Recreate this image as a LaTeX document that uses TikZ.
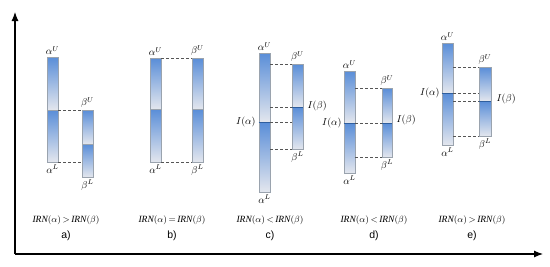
\documentclass[tikz,border=0pt]{standalone}
\usepackage{fontspec}
\setmainfont{Liberation Serif}
\newfontfamily\letterfont{Liberation Sans}
\usetikzlibrary{arrows.meta,positioning}
\definecolor{barblue}{HTML}{5A8ED8}
\definecolor{barwash}{HTML}{E4E7EE}
\definecolor{barline}{HTML}{9AA3AE}
\definecolor{midline}{HTML}{2F5E9E}
\definecolor{dashcol}{HTML}{555555}

\begin{document}
\begin{tikzpicture}[x=1pt,y=-1pt,node distance=1pt,
half/.style={draw=barline,line width=0.6pt,top color=barblue,bottom color=barwash,minimum width=11pt,inner sep=0pt,anchor=north},
tie/.style={dashcol,dash pattern=on 3pt off 2pt,line width=0.5pt},
midmark/.style={midline,line width=0.9pt},
lab/.style={font=\normalsize,inner sep=1pt},
captext/.style={font=\fontsize{9.5}{11}\selectfont,inner sep=1pt},
tag/.style={font=\letterfont\fontsize{10.5}{12}\selectfont,inner sep=1pt},
axis/.style={-{Latex[length=9pt,width=7pt]},line width=1.1pt}]
\useasboundingbox (0,0) rectangle (550,266);
% axes
\coordinate (origin) at (15,254);
\coordinate (ytip) at (15,12);
\coordinate (xtip) at (543,254);
\draw[axis] (origin)--(ytip);
\draw[axis] (origin)--(xtip);

% a)
\node[half,minimum height=53pt] (aAu) at (52.5,57) {};
\node[half,minimum height=52pt] (aAl) at (52.5,110) {};
\node[half,minimum height=34pt] (aBu) at (87.5,110) {};
\node[half,minimum height=33pt] (aBl) at (87.5,144) {};
\draw[tie] (aAl.north east)--(aBu.north west);
\draw[tie] (aAl.south east)--(aBl.west |- aAl.south);
\node[lab,above=of aAu] (aAup) {$\alpha^{U}$};
\node[lab,below=of aAl] (aAlo) {$\alpha^{L}$};
\node[lab,above=of aBu] (aBup) {$\beta^{U}$};
\node[lab,below=of aBl] (aBlo) {$\beta^{L}$};
\node[captext] (capA) at (66,220) {$\mathit{IRN}(\alpha)\,{>}\,\mathit{IRN}(\beta)$};
\node[tag,below=4pt of capA] (tagA) {a)};

% b)
\node[half,minimum height=51pt] (bAu) at (155.5,58) {};
\node[half,minimum height=53pt] (bAl) at (155.5,109) {};
\node[half,minimum height=51pt] (bBu) at (197.5,58) {};
\node[half,minimum height=53pt] (bBl) at (197.5,109) {};
\draw[tie] (bAu.north east)--(bBu.north west);
\draw[tie] (bAl.south east)--(bBl.south west);
\node[lab,above=of bAu] (bAup) {$\alpha^{U}$};
\node[lab,below=of bAl] (bAlo) {$\alpha^{L}$};
\node[lab,above=of bBu] (bBup) {$\beta^{U}$};
\node[lab,below=of bBl] (bBlo) {$\beta^{L}$};
\node[captext] (capB) at (172,220) {$\mathit{IRN}(\alpha)\,{=}\,\mathit{IRN}(\beta)$};
\node[tag,below=4pt of capB] (tagB) {b)};

% c)
\node[half,minimum height=69pt] (cAu) at (264.5,53) {};
\node[half,minimum height=70pt] (cAl) at (264.5,122) {};
\node[half,minimum height=43pt] (cBu) at (297.5,64) {};
\node[half,minimum height=42pt] (cBl) at (297.5,107) {};
\draw[midmark] (cAl.north west)--(cAl.north east);
\draw[midmark] (cBl.north west)--(cBl.north east);
\draw[tie] (cAu.east |- cBu.north)--(cBu.north west);
\draw[tie] (cAu.east |- cBl.north)--(cBl.north west);
\draw[tie] (cAl.north east)--(cBl.west |- cAl.north);
\draw[tie] (cAl.east |- cBl.south)--(cBl.south west);
\node[lab,above=of cAu] (cAup) {$\alpha^{U}$};
\node[lab,below=of cAl] (cAlo) {$\alpha^{L}$};
\node[lab,above=of cBu] (cBup) {$\beta^{U}$};
\node[lab,below=of cBl] (cBlo) {$\beta^{L}$};
\node[lab,left=2pt of cAl.north west] (cAmid) {$I(\alpha)$};
\node[lab,right=3pt of cBl.north east,yshift=1pt] (cBmid) {$I(\beta)$};
\node[captext] (capC) at (270,220) {$\mathit{IRN}(\alpha)\,{<}\,\mathit{IRN}(\beta)$};
\node[tag,below=4pt of capC] (tagC) {c)};

% d)
\node[half,minimum height=52pt] (dAu) at (349.5,71) {};
\node[half,minimum height=50pt] (dAl) at (349.5,123) {};
\node[half,minimum height=35pt,minimum width=10pt] (dBu) at (387,88) {};
\node[half,minimum height=34pt,minimum width=10pt] (dBl) at (387,123) {};
\draw[midmark] (dAl.north west)--(dAl.north east);
\draw[midmark] (dBl.north west)--(dBl.north east);
\draw[tie] (dAu.east |- dBu.north)--(dBu.north west);
\draw[tie] (dAl.north east)--(dBl.north west);
\draw[tie] (dAl.east |- dBl.south)--(dBl.south west);
\node[lab,above=of dAu] (dAup) {$\alpha^{U}$};
\node[lab,below=of dAl] (dAlo) {$\alpha^{L}$};
\node[lab,above=of dBu] (dBup) {$\beta^{U}$};
\node[lab,below=of dBl] (dBlo) {$\beta^{L}$};
\node[lab,left=1pt of dAl.north west] (dAmid) {$I(\alpha)$};
\node[lab,right=3pt of dBl.north east,yshift=3pt] (dBmid) {$I(\beta)$};
\node[captext] (capD) at (374,220) {$\mathit{IRN}(\alpha)\,{<}\,\mathit{IRN}(\beta)$};
\node[tag,below=4pt of capD] (tagD) {d)};

% e)
\node[half,minimum height=50pt] (eAu) at (447.5,43) {};
\node[half,minimum height=52pt] (eAl) at (447.5,93) {};
\node[half,minimum height=34pt,minimum width=12pt] (eBu) at (485,67) {};
\node[half,minimum height=35pt,minimum width=12pt] (eBl) at (485,101) {};
\draw[midmark] (eAl.north west)--(eAl.north east);
\draw[midmark] (eBl.north west)--(eBl.north east);
\draw[tie] (eAu.east |- eBu.north)--(eBu.north west);
\draw[tie] (eAl.north east)--(eBu.west |- eAl.north);
\draw[tie] (eAu.east |- eBl.north)--(eBl.north west);
\draw[tie] (eAl.east |- eBl.south)--(eBl.south west);
\node[lab,above=of eAu] (eAup) {$\alpha^{U}$};
\node[lab,below=of eAl] (eAlo) {$\alpha^{L}$};
\node[lab,above=of eBu] (eBup) {$\beta^{U}$};
\node[lab,below=of eBl] (eBlo) {$\beta^{L}$};
\node[lab,left=1pt of eAl.north west] (eAmid) {$I(\alpha)$};
\node[lab,right=4pt of eBl.north east,yshift=2pt] (eBmid) {$I(\beta)$};
\node[captext] (capE) at (472,220) {$\mathit{IRN}(\alpha)\,{>}\,\mathit{IRN}(\beta)$};
\node[tag,below=4pt of capE] (tagE) {e)};
\end{tikzpicture}
\end{document}
